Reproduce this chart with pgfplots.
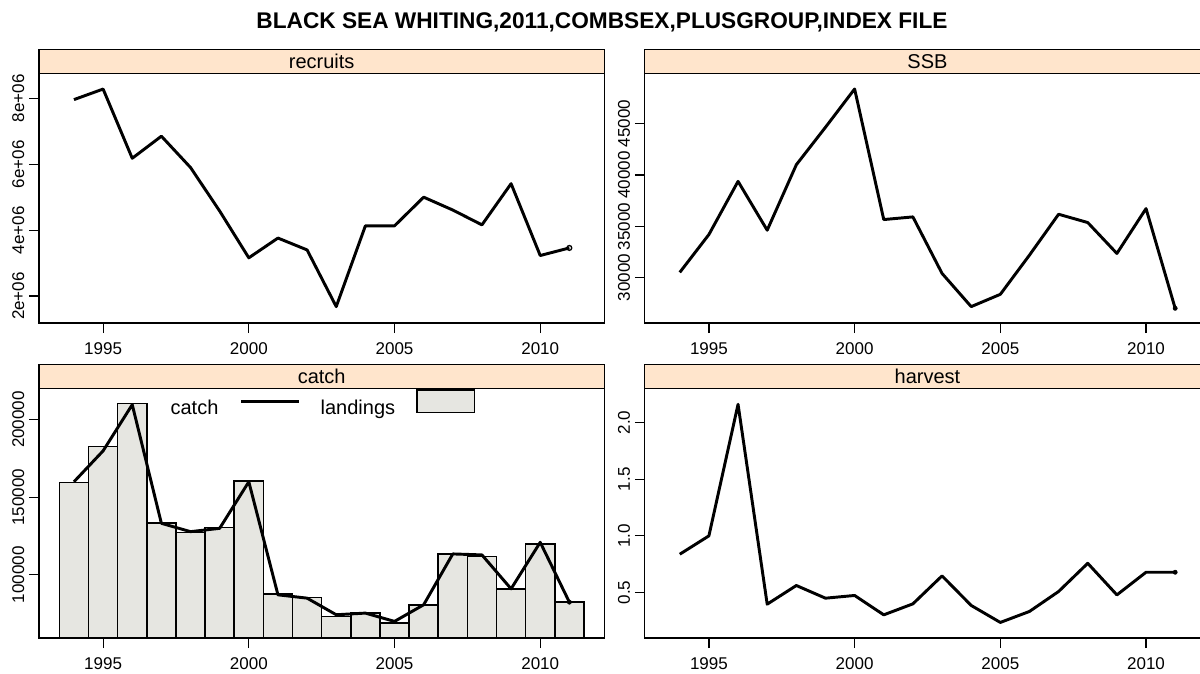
\documentclass[border=0pt]{standalone}
\usepackage{fontspec}
\setmainfont{Liberation Sans}
\usepackage{pgfplots}
\pgfplotsset{compat=1.18}
\definecolor{stripbg}{HTML}{FFE5CC}
\definecolor{barfill}{HTML}{E6E6E1}

\newcommand{\strip}[1]{%
  \draw[fill=stripbg, line width=0.9pt] (rel axis cs:0,1) rectangle ([yshift=18pt]rel axis cs:1,1);
  \node[font=\fontsize{15}{18}\selectfont, inner sep=0pt] at ([yshift=9pt]rel axis cs:0.5,1) {#1};
}

\pgfplotsset{
  panel/.style={
    width=424pt, height=187pt, scale only axis,
    xmin=1992.8, xmax=2012.2,
    axis line style={line width=0.9pt},
    tick style={line width=0.9pt, black},
    tick align=outside, major tick length=7.5pt,
    xtick pos=left, ytick pos=left,
    scaled x ticks=false, scaled y ticks=false,
    xtick={1995,2000,2005,2010}, xticklabels={1995,2000,2005,2010},
    tick label style={font=\fontsize{12.75}{15}\selectfont},
    yticklabel style={rotate=90, anchor=south},
    xticklabel shift=4pt,
    clip mode=individual,
  },
  serie/.style={black, mark=none, line width=2.2pt, line join=round},
  mylinelegend/.style={legend image code/.code={\draw[##1] (0pt,5pt) -- (43pt,5pt);}},
  myarealegend/.style={legend image code/.code={\draw[##1] (0pt,-3.6pt) rectangle (43pt,13.6pt);}},
}

\begin{document}
\begin{tikzpicture}
\useasboundingbox (0,0) rectangle (900pt,-505.5pt);
\clip (0,0) rectangle (900pt,-505.5pt);

\node[font=\bfseries\fontsize{17}{20}\selectfont] at (451.5pt,-16.5pt) {BLACK SEA WHITING,2011,COMBSEX,PLUSGROUP,INDEX FILE};

% recruits
\begin{axis}[panel, at={(29.25pt,-242.25pt)}, anchor=south west,
  ymin=1.183e6, ymax=8.747e6,
  ytick={2e6,4e6,6e6,8e6}, yticklabels={2e+06,4e+06,6e+06,8e+06}]
\addplot[serie] coordinates {
(1994,7.96e6) (1995,8.28e6) (1996,6.18e6) (1997,6.85e6) (1998,5.90e6) (1999,4.58e6)
(2000,3.16e6) (2001,3.76e6) (2002,3.40e6) (2003,1.68e6) (2004,4.13e6) (2005,4.13e6)
(2006,5.00e6) (2007,4.61e6) (2008,4.16e6) (2009,5.41e6) (2010,3.23e6) (2011,3.46e6)};
\addplot[only marks, mark=o, mark size=1.8pt, line width=1pt] coordinates {(2011,3.46e6)};
\strip{recruits}
\end{axis}

% SSB
\begin{axis}[panel, at={(483.6pt,-242.25pt)}, anchor=south west,
  ymin=25590, ymax=49870,
  ytick={30000,35000,40000,45000}, yticklabels={30000,35000,40000,45000}]
\addplot[serie] coordinates {
(1994,30518) (1995,34207) (1996,39384) (1997,34627) (1998,41002) (1999,44650)
(2000,48380) (2001,35663) (2002,35922) (2003,30420) (2004,27185) (2005,28382)
(2006,32200) (2007,36180) (2008,35372) (2009,32362) (2010,36731) (2011,27023)};
\addplot[only marks, mark=*, mark size=1.6pt] coordinates {(2011,27023)};
\strip{SSB}
\end{axis}

% catch
\begin{axis}[panel, at={(29.25pt,-478.5pt)}, anchor=south west,
  ymin=59340, ymax=219910,
  ytick={100000,150000,200000}, yticklabels={100000,150000,200000},
  legend columns=2, legend plot pos=right,
  legend style={at={(rel axis cs:0.5,1)}, anchor=north, draw=none, fill=none,
    inner sep=0pt, font=\fontsize{15}{18}\selectfont, column sep=14pt,
    /tikz/every even column/.append style={column sep=13.5pt}}]
\addlegendimage{mylinelegend, black, line width=2.2pt}
\addlegendentry{catch}
\addlegendimage{myarealegend, fill=barfill, draw=black, line width=1.2pt}
\addlegendentry{landings}
\addplot[ybar, bar width=1, fill=barfill, draw=black, line width=1.2pt, forget plot] coordinates {
(1994,159520) (1995,182640) (1996,210470) (1997,133400) (1998,127400) (1999,130400)
(2000,160590) (2001,87800) (2002,85440) (2003,73240) (2004,75380) (2005,68950)
(2006,80520) (2007,113490) (2008,111780) (2009,90790) (2010,119910) (2011,82440)};
\addplot[serie, forget plot] coordinates {
(1994,159950) (1995,179860) (1996,209620) (1997,133190) (1998,127830) (1999,129970)
(2000,159950) (2001,87150) (2002,85010) (2003,74310) (2004,75380) (2005,70030)
(2006,80730) (2007,113490) (2008,112850) (2009,91010) (2010,120980) (2011,82440)};
\addplot[only marks, mark=*, mark size=1.6pt, forget plot] coordinates {(2011,82440)};
\strip{catch}
\end{axis}

% harvest
\begin{axis}[panel, at={(483.6pt,-478.5pt)}, anchor=south west,
  ymin=0.0986, ymax=2.299,
  ytick={0.5,1.0,1.5,2.0}, yticklabels={0.5,1.0,1.5,2.0}]
\addplot[serie] coordinates {
(1994,0.838) (1995,1.000) (1996,2.161) (1997,0.397) (1998,0.562) (1999,0.450)
(2000,0.474) (2001,0.303) (2002,0.400) (2003,0.647) (2004,0.386) (2005,0.236)
(2006,0.333) (2007,0.509) (2008,0.758) (2009,0.479) (2010,0.679) (2011,0.679)};
\addplot[only marks, mark=*, mark size=1.6pt] coordinates {(2011,0.679)};
\strip{harvest}
\end{axis}
\end{tikzpicture}
\end{document}
